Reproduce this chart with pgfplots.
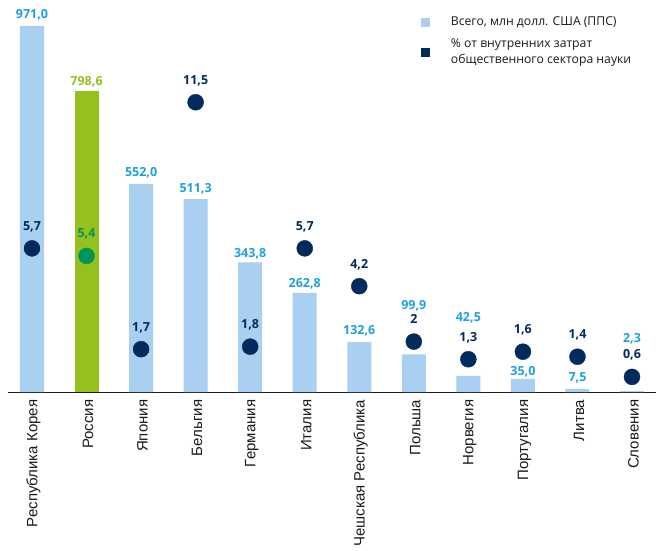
\documentclass[border=0pt]{standalone}
\usepackage{fontspec}
\setmainfont{Open Sans}
\newfontfamily\tickfont{Liberation Sans}
\usepackage{pgfplots}
\usepackage{pgfplotstable}
\pgfplotsset{compat=1.18}
\definecolor{barblue}{HTML}{A9D0F1}
\definecolor{labblue}{HTML}{1DA1DD}
\definecolor{navy}{HTML}{002B5C}
\definecolor{rusgreen}{HTML}{95C11F}
\definecolor{dotgreen}{HTML}{00965A}
\definecolor{txt}{HTML}{1A1A1A}

\pgfplotstableread{
x val lab off
0 971.0 {971,0} 7
2 552.0 {552,0} 7
3 511.3 {511,3} 7
4 343.8 {343,8} 5
5 262.8 {262,8} 5
6 132.6 {132,6} 8
7 99.9 {99,9} 45
8 42.5 {42,5} 54
9 35.0 {35,0} 3
10 7.5 {7,5} 8
11 2.3 {2,3} 49
}\bars
\pgfplotstableread{
x val lab off
1 798.6 {798,6} 5
}\rusbar
\pgfplotstableread{
x val lab
0 5.7 {5,7}
2 1.7 {1,7}
3 11.5 {11,5}
4 1.8 {1,8}
5 5.7 {5,7}
6 4.2 {4,2}
7 2 {2}
8 1.3 {1,3}
9 1.6 {1,6}
10 1.4 {1,4}
11 0.6 {0,6}
}\dots
\pgfplotstableread{
x val lab
1 5.4 {5,4}
}\rusdot

\begin{document}
\begin{tikzpicture}
\path[use as bounding box] (-8pt,-158pt) rectangle (648pt,392pt);
\begin{axis}[
  at={(0pt,0pt)}, anchor=south west,
  width=648pt, height=384pt, scale only axis,
  xmin=-0.44, xmax=11.44, ymin=0, ymax=1018.6,
  axis x line*=bottom, axis y line=none,
  x axis line style={draw=txt, line width=0.9pt, -},
  xtick={0,...,11},
  xticklabels={Республика Корея,Россия,Япония,Бельгия,Германия,Италия,Чешская Республика,Польша,Норвегия,Португалия,Литва,Словения},
  xtick style={draw=none},
  xticklabel style={rotate=90, anchor=east, font=\tickfont\fontsize{15}{16}\selectfont, text=txt, yshift=-1.5pt},
  ytick=\empty,
  ybar, bar width=24pt, bar shift=0pt,
  clip=false,
  point meta=explicit symbolic,
  visualization depends on={\thisrow{off} \as \off},
  nodes near coords,
  nodes near coords align={anchor=base},
  every node near coord/.append style={inner sep=0pt, yshift=\off pt, font=\bfseries\fontsize{12.5}{14}\selectfont},
]
\addplot[draw=none, fill=barblue, every node near coord/.append style={text=labblue}] table[x=x, y=val, meta=lab] {\bars};
\addplot[draw=none, fill=rusgreen, every node near coord/.append style={text=rusgreen}] table[x=x, y=val, meta=lab] {\rusbar};
\end{axis}
\begin{axis}[
  at={(0pt,0pt)}, anchor=south west,
  width=648pt, height=384pt, scale only axis,
  xmin=-0.44, xmax=11.44, ymin=0, ymax=15.24,
  axis lines=none, clip=false,
  point meta=explicit symbolic,
  nodes near coords,
  nodes near coords align={anchor=base},
  every node near coord/.append style={inner sep=0pt, yshift=18pt, font=\bfseries\fontsize{12.5}{14}\selectfont},
  legend style={at={(0.632,0.988)}, anchor=north west, draw=none, fill=none,
    font=\fontsize{12.2}{16}\selectfont, text=txt, row sep=7.5pt,
    cells={anchor=west, align=left}},
]
\addlegendimage{legend image code/.code={\fill[barblue] (0pt,-4pt) rectangle (8pt,4pt); \path[draw=none, fill=none] (0pt,0pt) -- (28pt,0pt);}}
\addlegendentry{Всего, млн долл. США (ППС)}
\addplot[only marks, mark=*, mark size=8pt, navy, mark options={draw=navy, fill=navy}, every node near coord/.append style={text=navy},
  legend image code/.code={\fill[navy] (0pt,-4pt) rectangle (8pt,4pt); \path[draw=none, fill=none] (0pt,0pt) -- (28pt,0pt);}] table[x=x, y=val, meta=lab] {\dots};
\addlegendentry{\% от внутренних затрат\\общественного сектора науки}
\addplot[only marks, mark=*, mark size=8pt, dotgreen, mark options={draw=dotgreen, fill=dotgreen}, every node near coord/.append style={text=dotgreen}, forget plot] table[x=x, y=val, meta=lab] {\rusdot};
\end{axis}
\end{tikzpicture}
\end{document}
